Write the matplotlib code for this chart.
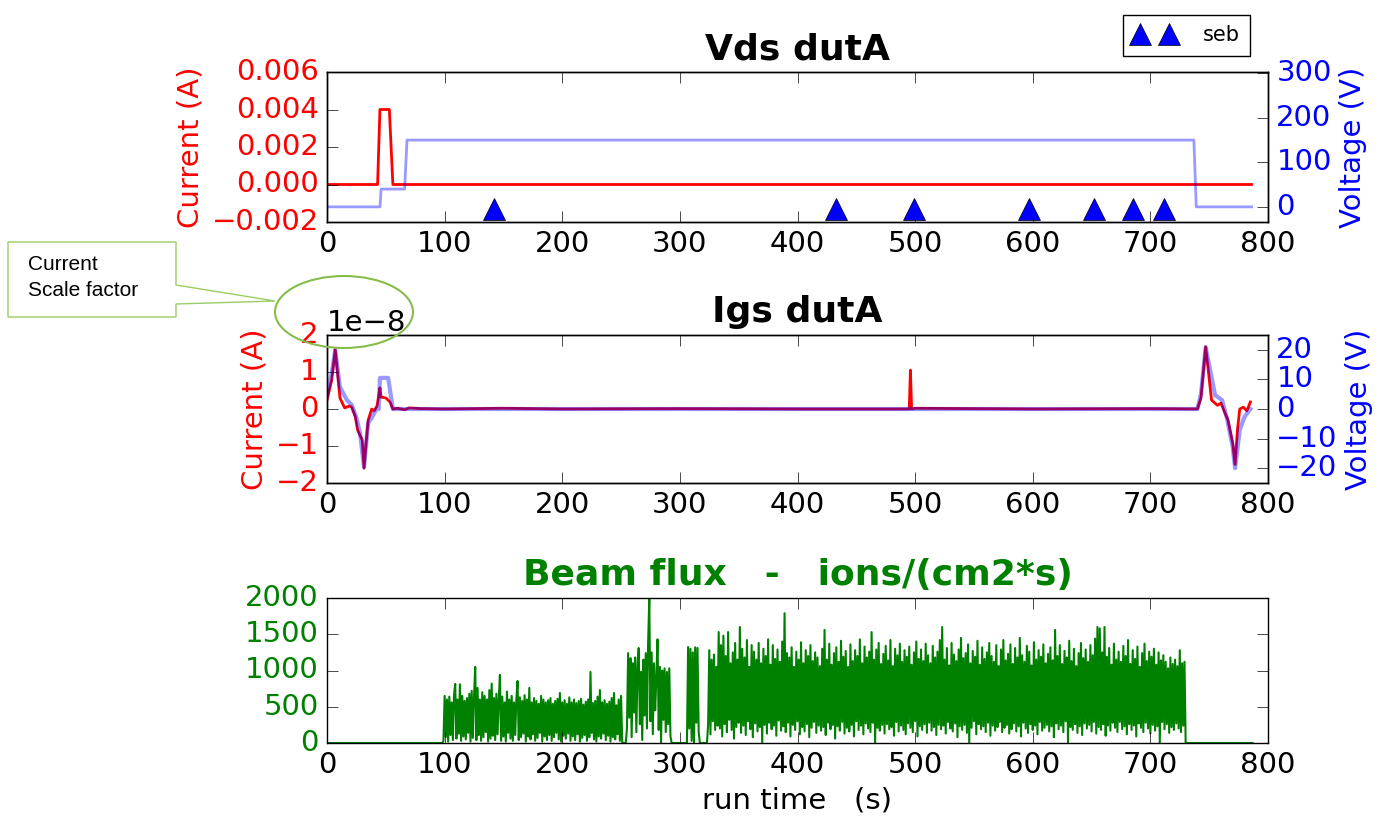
import numpy as np
import matplotlib
matplotlib.use("Agg")
import matplotlib.pyplot as plt
from matplotlib.patches import Ellipse, Polygon

# ---- Vds dutA (top panel)
vds_cur_t = [0, 43, 45, 53, 56, 786]
vds_cur = [0.0, 0.0, 0.004, 0.004, 0.0, 0.0]
vds_volt_t = [0, 45, 46, 66, 68, 737, 739, 786]
vds_volt = [0, 0, 40, 40, 150, 150, 0, 0]
seb_t = [142, 433, 499, 597, 652, 685, 712]
seb_level = -5

# ---- Igs dutA (middle panel), current in units of 1e-8 A
igs_cur_t = [0, 4, 7, 11, 15, 19, 21, 24, 26, 30, 31.5, 33, 35, 38, 40, 42.5, 45, 46,
             50, 53.5, 56, 60, 66, 70, 80, 100, 150, 200, 300, 400, 495, 496, 497,
             500, 600, 700, 740, 743, 747, 752, 757, 760, 763, 766, 770, 772, 774,
             776, 779, 782, 785]
igs_cur = [0.24, 0.78, 1.6, 0.3, 0.03, 0.08, 0.05, -0.2, -0.57, -0.84, -1.6, -1.0, -0.3,
           0.0, -0.05, 0.08, 0.57, 0.32, 0.3, 0.19, 0.0, 0.02, -0.02, 0.03, 0.01, 0.0,
           0.02, 0.0, 0.01, 0.0, 0.0, 1.05, 0.0, 0.02, 0.0, 0.01, 0.0, 0.3, 1.68, 0.24,
           0.1, 0.16, -0.08, -0.3, -0.92, -1.5, -0.57, 0.0, 0.05, -0.05, 0.19]
igs_volt_t = [0, 4, 7, 11, 17, 21, 25, 28, 31.5, 35, 38, 42, 44, 45, 52, 56, 100, 300,
              500, 700, 740, 743, 747, 755, 761, 765, 770, 772, 776, 780, 785]
igs_volt = [4.7, 12, 20, 7.4, 3, 1.4, -3, -8, -19.6, -4.7, -3, 0, 0, 10.5, 10.5, 0, 0, 0,
            0, 0, 0, 5, 20.9, 4.7, 3, -3, -12.8, -20, -7, -2.7, 0]

# ---- Beam flux (bottom panel), 1 s samples
beam_end = 788
beam_a_start = 99
beam_a = [30, 650, 80, 600, 20, 640, 110, 560, 40, 660,
          815, 60, 600, 130, 810, 30, 650, 90, 580, 50,
          620, 140, 680, 20, 720, 70, 640, 1050, 40, 760,
          110, 600, 30, 700, 80, 650, 150, 600, 20, 730,
          60, 820, 100, 620, 40, 680, 120, 590, 940, 30,
          640, 90, 560, 20, 710, 140, 600, 60, 650, 30,
          560, 110, 610, 855, 40, 630, 80, 580, 130, 660,
          20, 600, 90, 760, 50, 560, 120, 620, 30, 580,
          70, 540, 140, 650, 20, 600, 90, 560, 40, 590,
          110, 620, 30, 540, 80, 580, 140, 610, 50, 690,
          20, 560, 100, 590, 60, 540, 130, 630, 30, 560,
          90, 600, 40, 550, 120, 580, 20, 610, 70, 530,
          110, 570, 30, 600, 80, 980, 140, 550, 50, 580,
          20, 640, 90, 730, 60, 560, 130, 590, 40, 540,
          100, 570, 20, 620, 80, 690, 50, 520, 120, 600,
          30, 650, 10]
beam_b_start = 255
beam_b = [200, 1240, 350, 1170, 80, 1100, 420, 1180, 150, 1050,
          1310, 260, 980, 40, 1150, 380, 1240, 200, 1380, 2000,
          300, 1250, 120, 1100, 450, 900, 1430, 180, 1050, 10,
          1000, 320, 1030, 150, 980, 260, 1030, 90]
beam_c_start = 307
beam_c = [1325, 200, 1300, 30, 1250, 0, 1320, 280, 1310, 150]
beam_d_start = 324
beam_d = [250, 1280, 120, 1150, 300, 1220, 180, 1050, 240, 1530,
          200, 1350, 90, 1480, 260, 1200, 150, 1530, 320, 1100,
          180, 1250, 60, 1380, 220, 1150, 280, 1600, 140, 1300,
          240, 1180, 110, 1420, 300, 1050, 190, 1350, 80, 1260,
          270, 1150, 160, 1380, 220, 1100, 0, 1300, 250, 1200,
          130, 1430, 280, 1080, 190, 1350, 240, 1160, 100, 1290,
          310, 1120, 170, 1400, 230, 1790, 150, 1240, 280, 1180,
          90, 1320, 250, 1050, 180, 1260, 300, 1150, 120, 1390,
          220, 1100, 160, 1280, 260, 1200, 80, 1350, 210, 1130,
          290, 1250, 140, 1180, 240, 1060, 170, 1300, 220, 1560,
          110, 1150, 280, 1370, 190, 1080, 250, 1240, 60, 1320,
          230, 1120, 170, 1410, 290, 1190, 130, 1270, 210, 1050,
          160, 1360, 250, 1130, 90, 1280, 300, 1200, 180, 1430,
          240, 1100, 120, 1330, 270, 1180, 200, 1260, 150, 1530,
          280, 1150, 0, 1290, 210, 1380, 170, 1090, 250, 1230,
          130, 1340, 260, 1140, 190, 1420, 220, 1060, 100, 1300,
          290, 1210, 160, 1370, 240, 1120, 180, 1280, 120, 1190,
          270, 1330, 210, 1080, 150, 1250, 300, 1400, 90, 1160,
          230, 1290, 180, 1130, 260, 1370, 140, 1210, 280, 1100,
          170, 1340, 220, 1180, 110, 1260, 250, 1420, 190, 1600,
          240, 1150, 130, 1310, 290, 1070, 200, 1380, 160, 1220,
          270, 1130, 80, 1290, 230, 1450, 180, 1170, 250, 1240,
          140, 1360, 0, 1100, 210, 1270, 300, 1190, 120, 1410,
          260, 1080, 190, 1320, 230, 1160, 150, 1250, 280, 1380,
          100, 1200, 240, 1120, 170, 1350, 220, 1060, 290, 1290,
          150, 1420, 210, 1140, 250, 1230, 130, 1360, 190, 1090,
          270, 1310, 160, 1180, 230, 1450, 90, 1210, 280, 1120,
          200, 1340, 140, 1260, 260, 1070, 180, 1390, 240, 1150,
          120, 1280, 290, 1190, 170, 1360, 210, 1100, 250, 1230,
          160, 1320, 230, 1140, 80, 1560, 270, 1200, 190, 1350,
          240, 1090, 150, 1270, 300, 1180, 0, 1410, 220, 1130,
          180, 1300, 260, 1060, 140, 1240, 230, 1380, 110, 1170,
          270, 1290, 200, 1120, 250, 1350, 160, 1210, 290, 1440,
          130, 1600, 220, 1580, 180, 1250, 260, 1600, 100, 1190,
          240, 1310, 170, 1080, 280, 1370, 210, 1150, 150, 1260,
          290, 1120, 190, 1340, 230, 1200, 120, 1420, 260, 1090,
          180, 1280, 240, 1160, 90, 1330, 270, 1050, 210, 1240,
          150, 1370, 280, 1130, 200, 1260, 130, 1190, 250, 1300,
          170, 1080, 230, 1250, 0, 1140, 290, 1210, 190, 1120,
          260, 1030, 140, 1180, 220, 1090, 180, 1150, 270, 1060,
          200, 1280, 150, 1100, 240, 1120]

plt.style.use("classic")
plt.rcParams["font.family"] = ["DejaVu Sans"]
plt.rcParams["font.size"] = 21
plt.rcParams["xtick.major.size"] = 8
plt.rcParams["ytick.major.size"] = 8
plt.rcParams["xtick.major.pad"] = 6
plt.rcParams["ytick.major.pad"] = 6

fig = plt.figure(figsize=(13.96, 8.32), dpi=100, facecolor="white")
W, H = 1396.0, 832.0
left, width = 327 / W, 941 / W

title_kw = dict(fontsize=26, fontweight="bold", pad=9)

# top panel
ax1 = fig.add_axes([left, 1 - 222 / H, width, 150 / H])
ax1.plot(vds_cur_t, vds_cur, color="r", lw=2)
ax1.set_xlim(0, 800)
ax1.set_ylim(-0.002, 0.006)
ax1.set_yticks([-0.002, 0.0, 0.002, 0.004, 0.006])
ax1.set_ylabel("Current (A)", color="r")
for lab in ax1.get_yticklabels():
    lab.set_color("r")
ax1.set_title("Vds dutA", **title_kw)
ax1b = ax1.twinx()
ax1b.plot(vds_volt_t, vds_volt, color="b", alpha=0.4, lw=2)
seb, = ax1b.plot(seb_t, [seb_level] * len(seb_t), "^", color="b", ms=16,
                 mec="k", mew=0.5, ls="none", label="seb")
ax1b.set_xlim(0, 800)
ax1b.set_ylim(-34, 303)
ax1b.set_yticks([0, 100, 200, 300])
ax1b.set_ylabel("Voltage (V)", color="b")
for lab in ax1b.get_yticklabels():
    lab.set_color("b")

fig.legend(handles=[seb], labels=["seb"], loc="upper right",
           bbox_to_anchor=(1250 / W, 1 - 15 / H), numpoints=2, fontsize=15,
           handlelength=2.0, handletextpad=1.3, borderpad=0.5, borderaxespad=0,
           fancybox=False, edgecolor="k", framealpha=1)

# middle panel
ax2 = fig.add_axes([left, 1 - 483 / H, width, 148 / H])
ax2.plot(igs_cur_t, np.array(igs_cur) * 1e-8, color="r", lw=2)
ax2.set_xlim(0, 800)
ax2.set_ylim(-2e-8, 2e-8)
ax2.set_yticks([-2e-8, -1e-8, 0, 1e-8, 2e-8])
ax2.set_ylabel("Current (A)", color="r")
for lab in ax2.get_yticklabels():
    lab.set_color("r")
ax2.set_title("Igs dutA", **title_kw)
ax2b = ax2.twinx()
ax2b.plot(igs_volt_t, igs_volt, color="b", alpha=0.4, lw=3)
ax2b.set_xlim(0, 800)
ax2b.set_ylim(-25, 25)
ax2b.set_yticks([-20, -10, 0, 10, 20])
ax2b.set_ylabel("Voltage (V)", color="b")
for lab in ax2b.get_yticklabels():
    lab.set_color("b")

# bottom panel
flux_t = np.arange(0, beam_end)
flux = np.zeros(len(flux_t))
for start, seg in [(beam_a_start, beam_a), (beam_b_start, beam_b),
                   (beam_c_start, beam_c), (beam_d_start, beam_d)]:
    flux[start:start + len(seg)] = seg
ax3 = fig.add_axes([left, 1 - 743 / H, width, 145 / H])
ax3.plot(flux_t, flux, color="g", lw=1.5)
ax3.set_xlim(0, 800)
ax3.set_ylim(0, 2000)
ax3.set_yticks([0, 500, 1000, 1500, 2000])
for lab in ax3.get_yticklabels():
    lab.set_color("g")
ax3.set_title("Beam flux   -   ions/(cm2*s)", color="g", **title_kw)
ax3.set_xlabel("run time   (s)")

# callout annotation (figure pixel space)
ov = fig.add_axes([0, 0, 1, 1], zorder=10)
ov.set_xlim(0, W)
ov.set_ylim(H, 0)
ov.axis("off")
ov.patch.set_alpha(0)
callout = Polygon([(8, 242), (176, 242), (176, 285), (275, 301), (176, 304),
                   (176, 317), (8, 317)], closed=True, fc="white", ec="#9ccc65", lw=1)
ov.add_patch(callout)
ov.add_patch(Ellipse((344, 312), 138, 72, fill=False, ec="#86bc4a", lw=1.5))
ov.text(28, 265, "Current", fontsize=15, family="Liberation Sans", va="center")
ov.text(28, 291, "Scale factor", fontsize=15, family="Liberation Sans", va="center")

fig.savefig("out.png", dpi=100, facecolor="white")
